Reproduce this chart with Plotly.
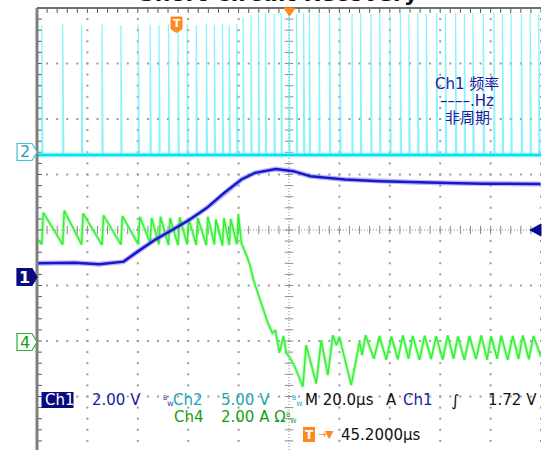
import plotly.graph_objects as go

# ---------------- values ----------------
TIME_PER_DIV_US = 20.0          # M 20.0 µs
TRIGGER_OFFSET_US = 45.2        # T -> 45.2000 µs
CH1_V_PER_DIV, CH2_V_PER_DIV, CH4_A_PER_DIV = 2.0, 5.0, 2.0
CH1_OFFSET_DIV, CH2_OFFSET_DIV, CH4_OFFSET_DIV = -0.85, 1.39, -2.01
TRIGGER_LEVEL_V = 1.72

# Ch1 (output voltage, V)
ch1_t_us = [-54.7, -40.0, -30.0, -20.4, -14.9, -8.1, -1.2, 5.7, 12.5, 19.4, 26.3,
            31.7, 40.0, 46.9, 53.7, 67.4, 81.2, 94.9, 108.6, 122.3, 145.0]
ch1_v = [0.50, 0.52, 0.47, 0.56, 0.92, 1.34, 1.70, 2.07, 2.49, 3.03, 3.52,
         3.76, 3.90, 3.82, 3.64, 3.52, 3.46, 3.42, 3.39, 3.37, 3.36]

# Ch2 (switch node, V): baseline and spike instants / tops
ch2_base_v = -0.2
ch2_spike_t_us = [-52.9, -44.6, -37.1, -29.0, -21.5, -14.6, -9.9, -6.4, -2.6, 1.2,
                  4.8, 8.4, 12.4, 15.6, 18.8, 21.5, 24.5, 27.0,
                  30.1, 33.1, 35.9, 39.3, 42.1, 45.2, 48.2, 51.0, 53.3, 57.1,
                  61.3, 65.4, 70.2, 73.6, 77.7, 81.2, 85.3, 89.4, 92.8, 96.3,
                  99.7, 103.8, 107.3, 111.3, 114.8, 118.2, 122.3, 126.5, 129.9,
                  133.3, 137.4, 140.9, 144.3]
ch2_spike_top_v = [11.5, 11.6, 11.5, 11.6, 11.5, 11.6, 11.5, 11.5, 11.6, 11.5,
                   11.6, 11.5, 11.6, 11.5, 11.6, 11.5, 11.6, 12.2,
                   12.4, 12.5, 12.6, 12.5, 12.6, 12.6, 12.5, 12.6, 12.5, 12.6,
                   12.5, 12.6, 12.5, 12.6, 12.5, 12.6, 12.5, 12.6, 12.5, 12.6,
                   12.5, 12.6, 12.5, 12.6, 12.5, 12.6, 12.5, 12.6, 12.5,
                   12.6, 12.5, 12.6, 12.5]

# Ch4 (inductor current, A): sawtooth before the drop
ch4_start_t_us, ch4_start_a = -54.8, 3.70
ch4_rise_t_us = [-52.9, -44.6, -37.1, -29.0, -21.5, -14.6, -9.9, -6.4, -2.6, 1.2,
                 4.8, 8.4, 12.4, 15.6, 18.8, 21.5, 24.5]
ch4_trough_a = [3.50, 3.49, 3.49, 3.48, 3.49, 3.50, 3.55, 3.50, 3.48, 3.47,
                3.50, 3.48, 3.47, 3.50, 3.46, 3.48, 3.50]
ch4_peak_a = [4.65, 4.72, 4.62, 4.55, 4.52, 4.50, 4.45, 4.50, 4.45, 4.48,
              4.42, 4.45, 4.50, 4.40, 4.45, 4.42, 4.60]
# Ch4 after the short: fall and recovery
ch4_tail_t_us = [26.3, 28.3, 29.7, 31.1, 32.4, 34.5, 36.7, 38.6, 39.8, 41.4, 43.0,
                 44.1, 45.4, 47.4, 50.7, 52.0, 56.0, 58.0, 60.6, 62.6, 64.0, 65.2,
                 69.9, 73.2, 74.2, 75.6,
                 78.9, 81.1, 83.8, 85.8, 88.4, 90.4, 92.6, 94.3, 97.0, 99.0,
                 101.6, 103.6, 106.2, 108.2, 110.5, 112.2, 114.8, 116.8, 119.4,
                 121.5, 123.8, 125.4, 127.8, 129.4, 132.0, 134.0, 136.3, 138.0,
                 140.4, 142.2, 145.2]
ch4_tail_a = [3.55, 3.12, 2.76, 2.22, 1.86, 1.24, 0.70, 0.31, 0.41, -0.41, 0.20,
              -0.41, -0.56, -0.88, -1.63, -0.13, -1.51, 0.05, -1.21, 0.23, -0.13, 0.17,
              -1.57, -0.01, -0.49, 0.23,
              -0.62, 0.20, -0.66, 0.18, -0.64, 0.22, -0.62, 0.20, -0.66, 0.21,
              -0.63, 0.19, -0.65, 0.22, -0.62, 0.18, -0.66, 0.20, -0.63,
              0.22, -0.65, 0.19, -0.62, 0.21, -0.66, 0.20, -0.63, 0.22,
              -0.64, 0.20, -0.55]

# ---------------- geometry ----------------
W, H = 542, 450
ML, MR, MT, MB = 37, 1, 8, 0
PW, PH = W - ML - MR, H - MT - MB
PX_PER_DIV_Y = 55.5
Y_TOP = 4.0
Y_BOT = Y_TOP - PH / PX_PER_DIV_Y
X_LEFT = TRIGGER_OFFSET_US - 5 * TIME_PER_DIV_US
X_RIGHT = TRIGGER_OFFSET_US + 5 * TIME_PER_DIV_US


def xp(px):
    return (px - ML) / PW


def yp(py):
    return 1 - (py - MT) / PH


def ch_range(off, scale):
    return [(Y_BOT - off) * scale, (Y_TOP - off) * scale]


NAVY = "#1c1c9c"
TEAL = "#1aa6b0"
GREEN_T = "#14a014"
ORANGE = "#ff8a1c"
GRID = "#9a9a9a"
FONT = "DejaVu Sans, Noto Sans CJK SC"

fig = go.Figure()

# ---------------- graticule ----------------
step_x = TIME_PER_DIV_US / 5
xs_fine = [X_LEFT + step_x * j for j in range(51)]
ys_fine = [j / 5 for j in range(-20, 21)]
gx, gy = [], []
for k in range(-4, 6):
    if k == 0:
        continue
    xv = TRIGGER_OFFSET_US + k * TIME_PER_DIV_US
    for yv in ys_fine:
        gx.append(xv)
        gy.append(yv)
for k in range(-3, 4):
    if k == 0:
        continue
    for xv in xs_fine:
        gx.append(xv)
        gy.append(k)
fig.add_trace(go.Scatter(x=gx, y=gy, mode="markers", hoverinfo="skip",
                         marker=dict(symbol="square", size=2, color=GRID, line=dict(width=0))))
# ticks on centre lines and borders
fig.add_trace(go.Scatter(x=xs_fine, y=[0] * len(xs_fine), mode="markers", hoverinfo="skip",
                         marker=dict(symbol="line-ns", size=6, line=dict(width=1, color="#8a8a8a"))))
fig.add_trace(go.Scatter(x=[TRIGGER_OFFSET_US] * len(ys_fine), y=ys_fine, mode="markers", hoverinfo="skip",
                         marker=dict(symbol="line-ew", size=6, line=dict(width=1, color="#8a8a8a"))))
fig.add_trace(go.Scatter(x=xs_fine, y=[Y_TOP] * len(xs_fine), mode="markers", hoverinfo="skip",
                         marker=dict(symbol="line-ns", size=7, line=dict(width=1, color="#555"))))
fig.add_trace(go.Scatter(x=[X_LEFT] * len(ys_fine), y=ys_fine, mode="markers", hoverinfo="skip",
                         marker=dict(symbol="line-ew", size=7, line=dict(width=1, color="#555"))))

shapes = []
# dense dotted centre lines
shapes.append(dict(type="line", xref="x", yref="y", x0=X_LEFT, x1=X_RIGHT, y0=0, y1=0,
                   line=dict(color="#8a8a8a", width=1, dash="1px,2px"), layer="below"))
shapes.append(dict(type="line", xref="x", yref="y", x0=TRIGGER_OFFSET_US, x1=TRIGGER_OFFSET_US,
                   y0=Y_TOP, y1=Y_BOT, line=dict(color="#8a8a8a", width=1, dash="1px,2px"), layer="below"))
# borders
shapes.append(dict(type="line", xref="paper", yref="paper", x0=0, x1=0, y0=0, y1=1,
                   line=dict(color="#808080", width=3)))
shapes.append(dict(type="line", xref="paper", yref="paper", x0=0, x1=1, y0=1, y1=1,
                   line=dict(color="#707070", width=2)))

# ---------------- Ch2 (cyan) ----------------
sx, sy = [], []
for t, top in zip(ch2_spike_t_us, ch2_spike_top_v):
    sx += [t, t, t + 0.45, None]
    sy += [ch2_base_v, top, ch2_base_v, None]
fig.add_trace(go.Scatter(x=sx, y=sy, yaxis="y2", mode="lines", hoverinfo="skip",
                         line=dict(color="rgba(90,238,248,0.7)", width=1.2)))
fig.add_trace(go.Scatter(x=[X_LEFT, X_RIGHT], y=[ch2_base_v, ch2_base_v], yaxis="y2", mode="lines",
                         hoverinfo="skip", line=dict(color="rgba(120,240,255,0.6)", width=5)))
fig.add_trace(go.Scatter(x=[X_LEFT, X_RIGHT], y=[ch2_base_v, ch2_base_v], yaxis="y2", mode="lines",
                         hoverinfo="skip", line=dict(color="#00e4f0", width=2.5)))

# ---------------- Ch4 (green) ----------------
c4x, c4y = [ch4_start_t_us], [ch4_start_a]
for t, lo, hi in zip(ch4_rise_t_us, ch4_trough_a, ch4_peak_a):
    c4x += [t, t + 0.6]
    c4y += [lo, hi]
c4x += ch4_tail_t_us
c4y += ch4_tail_a
fig.add_trace(go.Scatter(x=c4x, y=c4y, yaxis="y3", mode="lines", hoverinfo="skip",
                         line=dict(color="rgba(120,255,120,0.5)", width=3.5)))
fig.add_trace(go.Scatter(x=c4x, y=c4y, yaxis="y3", mode="lines", hoverinfo="skip",
                         line=dict(color="#36ee36", width=1.5)))

# ---------------- Ch1 (blue) ----------------
fig.add_trace(go.Scatter(x=ch1_t_us, y=ch1_v, yaxis="y4", mode="lines", hoverinfo="skip",
                         line=dict(color="rgba(110,110,255,0.5)", width=5)))
fig.add_trace(go.Scatter(x=ch1_t_us, y=ch1_v, yaxis="y4", mode="lines", hoverinfo="skip",
                         line=dict(color="#1818c8", width=2.5)))


# ---------------- markers / annotations ----------------
def path(points):
    return "M " + " L ".join(f"{xp(a):.5f},{yp(b):.5f}" for a, b in points) + " Z"


def tag(pyc, fill, edge):
    shapes.append(dict(type="path", xref="paper", yref="paper",
                       path=path([(17, pyc - 8.5), (32, pyc - 8.5), (37, pyc), (32, pyc + 8.5), (17, pyc + 8.5)]),
                       fillcolor=fill, line=dict(color=edge, width=1.2)))


tag(152, "white", "#40c8d0")
tag(277, "#0a0a80", "#0a0a80")
tag(342, "white", "#30b030")

# trigger position marker (top left)
shapes.append(dict(type="path", xref="paper", yref="paper",
                   path=path([(171, 17), (182, 17), (182, 29), (176.5, 32.5), (171, 29)]),
                   fillcolor=ORANGE, line=dict(color=ORANGE, width=1)))
# centre orange triangle
shapes.append(dict(type="path", xref="paper", yref="paper",
                   path=path([(284, 8), (295, 8), (289.5, 16)]),
                   fillcolor=ORANGE, line=dict(color=ORANGE, width=1)))
# trigger level arrow (right)
shapes.append(dict(type="path", xref="paper", yref="paper",
                   path=path([(530, 230), (541, 224), (541, 236)]),
                   fillcolor="#0a0a90", line=dict(color="#0a0a90", width=1)))
# Ch1 readout box
shapes.append(dict(type="rect", xref="paper", yref="paper", x0=xp(41.5), x1=xp(73.5),
                   y0=yp(408), y1=yp(392), fillcolor="#0a0a80", line=dict(width=0)))
# bottom T box
shapes.append(dict(type="rect", xref="paper", yref="paper", x0=xp(303), x1=xp(315),
                   y0=yp(442), y1=yp(427), fillcolor=ORANGE, line=dict(width=0)))

ann = []


def text(px, py, s, color, size=15, anchor="left", bold=False):
    ann.append(dict(x=xp(px), y=yp(py), xref="paper", yref="paper", text=(f"<b>{s}</b>" if bold else s),
                    showarrow=False, xanchor=anchor, yanchor="middle",
                    font=dict(family=FONT, size=size, color=color)))


text(278, -6.2, "Short Circuit Recovery", "#111", size=22, anchor="center", bold=True)
text(24.5, 152, "2", TEAL, size=16, anchor="center")
text(24.5, 277, "1", "white", size=16, anchor="center", bold=True)
text(24.5, 342, "4", GREEN_T, size=16, anchor="center")
text(176.5, 23.5, "T", "white", size=11, anchor="center", bold=True)

text(467, 84, "Ch1 频率", NAVY, anchor="center")
text(467, 101, "––––.Hz", NAVY, anchor="center")
text(467, 118, "非周期", NAVY, anchor="center")

text(42.5, 400, "Ch1", "white")
text(89.5, 400, "2.00 V", NAVY)
text(160.5, 400, "<sup>B</sup><sub>W</sub>", NAVY, size=9)
text(170.5, 400, "Ch2", TEAL)
text(219, 400, "5.00 V", TEAL)
text(289.5, 400, "<sup>B</sup><sub>W</sub>", TEAL, size=9)
text(302.5, 400, "M 20.0µs", "#111")
text(384, 400, "A", "#111")
text(400.5, 400, "Ch1", NAVY)
text(449, 400, "∫", "#111", size=16)
text(485.5, 400, "1.72 V", "#111")

text(171.5, 417, "Ch4", GREEN_T)
text(219, 417, "2.00 A Ω", GREEN_T)
text(283.5, 417, "<sup>B</sup><sub>W</sub>", GREEN_T, size=9)

text(309, 434.5, "T", "white", size=12, anchor="center", bold=True)
text(315.5, 434.5, "→", ORANGE, size=10)
text(323, 434.5, "▼", ORANGE, size=11)
text(339, 434.5, "45.2000µs", "#111")

hidden = dict(visible=False, showgrid=False, zeroline=False, fixedrange=True)
fig.update_layout(
    width=W, height=H, margin=dict(l=ML, r=MR, t=MT, b=MB, pad=0),
    paper_bgcolor="white", plot_bgcolor="white", showlegend=False,
    xaxis=dict(range=[X_LEFT, X_RIGHT], **hidden),
    yaxis=dict(range=[Y_BOT, Y_TOP], **hidden),
    yaxis2=dict(range=ch_range(CH2_OFFSET_DIV, CH2_V_PER_DIV), overlaying="y", **hidden),
    yaxis3=dict(range=ch_range(CH4_OFFSET_DIV, CH4_A_PER_DIV), overlaying="y", **hidden),
    yaxis4=dict(range=ch_range(CH1_OFFSET_DIV, CH1_V_PER_DIV), overlaying="y", **hidden),
    shapes=shapes, annotations=ann,
)
fig.write_html("out.html", config={"displayModeBar": False, "staticPlot": True},
               post_script="document.body.style.margin='0px';document.body.style.overflow='hidden';")
